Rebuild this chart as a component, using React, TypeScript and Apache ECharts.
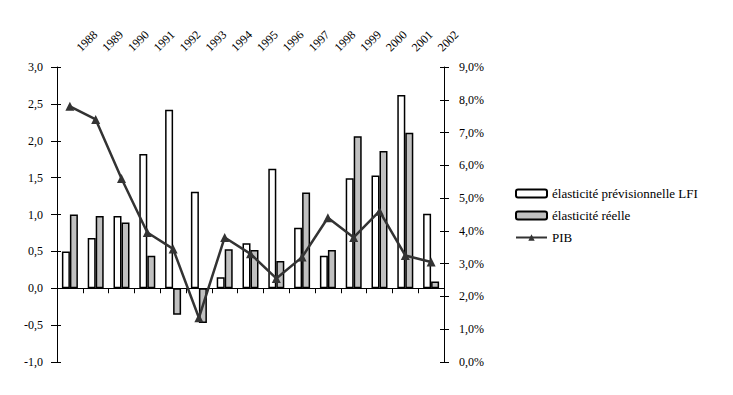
import React, { useEffect, useRef } from "react";
import * as echarts from "echarts";

const years = ["1988","1989","1990","1991","1992","1993","1994","1995","1996","1997","1998","1999","2000","2001","2002"];
const elasticitePrev = [0.5, 0.68, 0.98, 1.82, 2.42, 1.31, 0.15, 0.61, 1.62, 0.82, 0.44, 1.49, 1.53, 2.62, 1.01];
const elasticiteReelle = [1.0, 0.98, 0.89, 0.44, -0.36, -0.47, 0.53, 0.52, 0.37, 1.3, 0.52, 2.06, 1.86, 2.11, 0.09];
const pib = [7.8, 7.4, 5.6, 3.95, 3.45, 1.35, 3.8, 3.3, 2.55, 3.2, 4.4, 3.8, 4.6, 3.25, 3.05];

const FONT = "Times New Roman";

export default function App() {
  const ref = useRef<HTMLDivElement>(null);
  useEffect(() => {
    document.body.style.margin = "0";
    const chart = echarts.init(ref.current!, null, { renderer: "svg" });
    const fmtL = (v: number) => v.toFixed(1).replace(".", ",");
    const fmtR = (v: number) => v.toFixed(1).replace(".", ",") + "%";
    const axisColor = "#000";
    chart.setOption({
      animation: false,
      backgroundColor: "#fff",
      textStyle: { fontFamily: FONT },
      grid: { left: 57, right: 289, top: 67, bottom: 33, containLabel: false },
      legend: {
        orient: "vertical",
        left: 510,
        top: 182,
        itemWidth: 31,
        itemHeight: 8,
        itemGap: 9,
        textStyle: { fontFamily: FONT, fontSize: 13, color: "#000" },
        data: [
          { name: "élasticité prévisionnelle LFI" },
          { name: "élasticité réelle" },
          { name: "PIB" },
        ],
      },
      xAxis: [
        {
          type: "category",
          data: years,
          position: "bottom",
          axisLine: { onZero: true, onZeroAxisIndex: 0, lineStyle: { color: axisColor, width: 1 } },
          axisTick: { show: true, interval: 0, length: 5, lineStyle: { color: axisColor } },
          axisLabel: { show: false },
          splitLine: { show: false },
        },
        {
          type: "category",
          data: years,
          position: "top",
          axisLine: { show: false },
          axisTick: { show: false },
          axisLabel: {
            show: true,
            interval: 0,
            rotate: 45,
            margin: 9,
            padding: [0, 0, 0, 12],
            fontFamily: FONT,
            fontSize: 12,
            color: "#000",
          },
          splitLine: { show: false },
        },
      ],
      yAxis: [
        {
          type: "value",
          min: -1,
          max: 3,
          interval: 0.5,
          position: "left",
          axisLine: { show: true, lineStyle: { color: axisColor } },
          axisTick: { show: true, length: 6, lineStyle: { color: axisColor } },
          axisLabel: { formatter: fmtL, margin: 14, fontFamily: FONT, fontSize: 12, color: "#000" },
          splitLine: { show: false },
        },
        {
          type: "value",
          min: 0,
          max: 9,
          interval: 1,
          position: "right",
          axisLine: { show: true, lineStyle: { color: axisColor } },
          axisTick: { show: true, length: 5, lineStyle: { color: axisColor } },
          axisLabel: { formatter: fmtR, margin: 15, fontFamily: FONT, fontSize: 12, color: "#000" },
          splitLine: { show: false },
        },
        {
          type: "value",
          min: -1,
          max: 3,
          interval: 0.5,
          position: "left",
          axisLine: { show: false },
          axisTick: { show: true, inside: true, length: 4, lineStyle: { color: axisColor } },
          axisLabel: { show: false },
          splitLine: { show: false },
        },
        {
          type: "value",
          min: 0,
          max: 9,
          interval: 1,
          position: "right",
          axisLine: { show: false },
          axisTick: { show: true, inside: true, length: 4, lineStyle: { color: axisColor } },
          axisLabel: { show: false },
          splitLine: { show: false },
        },
      ],
      series: [
        {
          name: "élasticité prévisionnelle LFI",
          type: "bar",
          xAxisIndex: 0,
          yAxisIndex: 0,
          data: elasticitePrev,
          barWidth: 8,
          barGap: "0%",
          itemStyle: { color: "#ffffff", borderColor: "#000", borderWidth: 1.5 },
        },
        {
          name: "élasticité réelle",
          type: "bar",
          xAxisIndex: 0,
          yAxisIndex: 0,
          data: elasticiteReelle,
          barWidth: 8,
          barGap: "0%",
          itemStyle: { color: "#c0c0c0", borderColor: "#000", borderWidth: 1.5 },
        },
        {
          name: "PIB",
          type: "line",
          xAxisIndex: 0,
          yAxisIndex: 1,
          data: pib,
          symbol: "triangle",
          symbolSize: 9,
          lineStyle: { color: "#333333", width: 2.5 },
          itemStyle: { color: "#333333" },
          z: 5,
        },
      ],
    });
    return () => chart.dispose();
  }, []);
  return <div ref={ref} style={{ width: 733, height: 395 }} />;
}
